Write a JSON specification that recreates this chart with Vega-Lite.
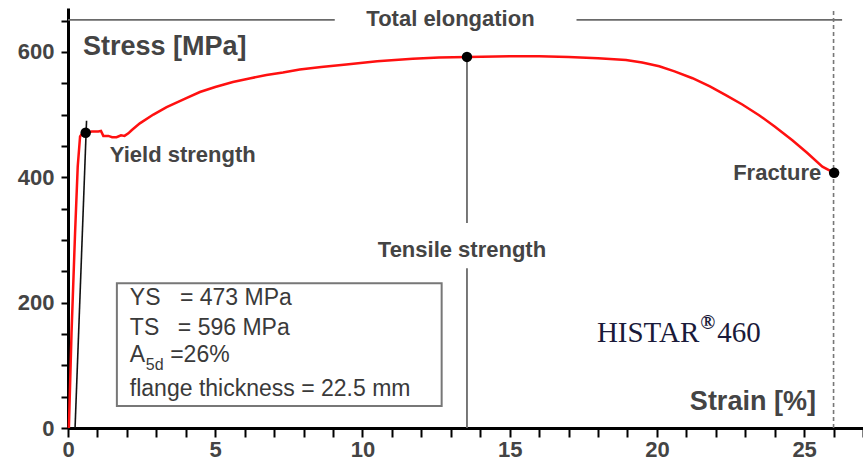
{
  "$schema": "https://vega.github.io/schema/vega-lite/v6.json",
  "width": 795,
  "height": 420,
  "autosize": "none",
  "padding": {"left": 68, "top": 8, "right": 0, "bottom": 35},
  "config": {"view": {"stroke": null}, "font": "Liberation Sans"},
  "datasets": {
    "curve": [
      {"strain": 0.03, "stress": 0}, {"strain": 0.12, "stress": 152}, {"strain": 0.24, "stress": 311},
      {"strain": 0.33, "stress": 417}, {"strain": 0.41, "stress": 465}, {"strain": 0.5, "stress": 471},
      {"strain": 0.58, "stress": 470}, {"strain": 0.8, "stress": 473}, {"strain": 1.03, "stress": 473},
      {"strain": 1.12, "stress": 474}, {"strain": 1.2, "stress": 466}, {"strain": 1.37, "stress": 466},
      {"strain": 1.5, "stress": 464}, {"strain": 1.65, "stress": 464}, {"strain": 1.8, "stress": 467},
      {"strain": 1.92, "stress": 466}, {"strain": 2.05, "stress": 470}, {"strain": 2.16, "stress": 475},
      {"strain": 2.44, "stress": 486}, {"strain": 2.9, "stress": 500}, {"strain": 3.35, "stress": 512},
      {"strain": 4.0, "stress": 526}, {"strain": 4.48, "stress": 536}, {"strain": 5.0, "stress": 544},
      {"strain": 5.6, "stress": 552}, {"strain": 6.2, "stress": 558}, {"strain": 6.74, "stress": 563},
      {"strain": 7.3, "stress": 567}, {"strain": 7.87, "stress": 572}, {"strain": 8.6, "stress": 576},
      {"strain": 9.45, "stress": 580}, {"strain": 10.5, "stress": 585}, {"strain": 11.71, "stress": 589},
      {"strain": 12.6, "stress": 591}, {"strain": 13.58, "stress": 592}, {"strain": 15.0, "stress": 593},
      {"strain": 16.0, "stress": 593}, {"strain": 17.0, "stress": 592}, {"strain": 18.0, "stress": 590},
      {"strain": 18.95, "stress": 587}, {"strain": 19.5, "stress": 583}, {"strain": 20.08, "stress": 577},
      {"strain": 20.6, "stress": 569}, {"strain": 21.21, "stress": 558}, {"strain": 21.8, "stress": 545},
      {"strain": 22.34, "stress": 531}, {"strain": 22.9, "stress": 516}, {"strain": 23.47, "stress": 499},
      {"strain": 24.0, "stress": 481}, {"strain": 24.6, "stress": 459}, {"strain": 25.1, "stress": 439},
      {"strain": 25.62, "stress": 417}, {"strain": 26.02, "stress": 407}
    ],
    "points": [
      {"strain": 0.6, "stress": 471}, {"strain": 13.55, "stress": 592}, {"strain": 26.02, "stress": 407}
    ],
    "grayRules": [
      {"x": 13.55, "y": 327, "x2": 13.55, "y2": 592},
      {"x": 13.55, "y": 0, "x2": 13.55, "y2": 255},
      {"x": 0, "y": 651, "x2": 9.06, "y2": 651},
      {"x": 17.27, "y": 651, "x2": 26.29, "y2": 651}
    ],
    "elastic": [{"x": 0.24, "y": 0, "x2": 0.63, "y2": 490}],
    "dashed": [{"x": 26.0, "y": 0, "x2": 26.0, "y2": 670}],
    "box": [{"x": 1.66, "x2": 12.69, "y": 35, "y2": 231}],
    "leftLabels": [
      {"x": 1.42, "y": 424, "text": "Yield strength"}
    ],
    "centerLabels": [
      {"x": 13.38, "y": 272, "text": "Tensile strength"},
      {"x": 12.99, "y": 641, "text": "Total elongation"}
    ],
    "fracture": [{"x": 25.58, "y": 395, "text": "Fracture"}],
    "titleLeft": [{"x": 0.51, "y": 595, "text": "Stress [MPa]"}],
    "titleRight": [{"x": 25.4, "y": 29, "text": "Strain [%]"}],
    "boxText": [
      {"x": 2.1, "y": 197, "text": "YS"},
      {"x": 3.8, "y": 197, "text": "= 473 MPa"},
      {"x": 2.1, "y": 149, "text": "TS"},
      {"x": 3.73, "y": 149, "text": "= 596 MPa"},
      {"x": 2.1, "y": 106, "text": "A"},
      {"x": 3.47, "y": 106, "text": "=26%"},
      {"x": 2.1, "y": 51, "text": "flange thickness = 22.5 mm"}
    ],
    "subText": [{"x": 2.64, "y": 93, "text": "5d"}],
    "histar": [{"x": 21.44, "y": 137, "text": "HISTAR"}],
    "reg": [{"x": 21.47, "y": 158, "text": "®"}],
    "histarNum": [{"x": 22.05, "y": 137, "text": "460"}]
  },
  "encoding": {
    "x": {
      "field": "x", "type": "quantitative",
      "scale": {"domain": [0, 27], "nice": false, "zero": false},
      "axis": {
        "title": null, "grid": false,
        "values": [0,1,2,3,4,5,6,7,8,9,10,11,12,13,14,15,16,17,18,19,20,21,22,23,24,25,26,27],
        "labelExpr": "datum.value % 5 === 0 ? datum.label : ''",
        "labelOverlap": false, "labelFlush": false,
        "domainColor": "#000000", "domainWidth": 3,
        "tickColor": "#000000", "tickWidth": 2, "tickSize": 9,
        "labelFont": "Liberation Sans", "labelFontWeight": "bold", "labelFontSize": 22,
        "labelColor": "#444444", "labelPadding": 2
      }
    },
    "y": {
      "field": "y", "type": "quantitative",
      "scale": {"domain": [0, 670], "nice": false, "zero": false},
      "axis": {
        "title": null, "grid": false,
        "values": [0,50,100,150,200,250,300,350,400,450,500,550,600,650],
        "labelExpr": "datum.value % 200 === 0 ? datum.label : ''",
        "labelOverlap": false, "labelFlush": false,
        "domainColor": "#000000", "domainWidth": 3,
        "tickColor": "#000000", "tickWidth": 2, "tickSize": 7,
        "labelFont": "Liberation Sans", "labelFontWeight": "bold", "labelFontSize": 22,
        "labelColor": "#444444", "labelPadding": 7
      }
    }
  },
  "layer": [
    {
      "data": {"name": "box"},
      "mark": {"type": "rect", "fill": "#ffffff", "stroke": "#777777", "strokeWidth": 2},
      "encoding": {"x2": {"field": "x2"}, "y2": {"field": "y2"}}
    },
    {
      "data": {"name": "grayRules"},
      "mark": {"type": "rule", "color": "#6a6a6a", "strokeWidth": 1.8},
      "encoding": {"x2": {"field": "x2"}, "y2": {"field": "y2"}}
    },
    {
      "data": {"name": "dashed"},
      "mark": {"type": "rule", "color": "#777777", "strokeWidth": 1.6, "strokeDash": [4, 3]},
      "encoding": {"x2": {"field": "x2"}, "y2": {"field": "y2"}}
    },
    {
      "data": {"name": "elastic"},
      "mark": {"type": "rule", "color": "#111111", "strokeWidth": 1.6},
      "encoding": {"x2": {"field": "x2"}, "y2": {"field": "y2"}}
    },
    {
      "data": {"name": "curve"},
      "mark": {"type": "line", "color": "#ff1010", "strokeWidth": 2.5},
      "encoding": {
        "x": {"field": "strain", "type": "quantitative"},
        "y": {"field": "stress", "type": "quantitative"}
      }
    },
    {
      "data": {"name": "points"},
      "mark": {"type": "point", "filled": true, "color": "#000000", "size": 110, "opacity": 1},
      "encoding": {
        "x": {"field": "strain", "type": "quantitative"},
        "y": {"field": "stress", "type": "quantitative"}
      }
    },
    {
      "data": {"name": "leftLabels"},
      "mark": {"type": "text", "font": "Liberation Sans", "fontWeight": "bold", "fontSize": 22, "color": "#444444", "baseline": "alphabetic", "align": "left"},
      "encoding": {"text": {"field": "text"}}
    },
    {
      "data": {"name": "centerLabels"},
      "mark": {"type": "text", "font": "Liberation Sans", "fontWeight": "bold", "fontSize": 22, "color": "#444444", "baseline": "alphabetic", "align": "center"},
      "encoding": {"text": {"field": "text"}}
    },
    {
      "data": {"name": "fracture"},
      "mark": {"type": "text", "font": "Liberation Sans", "fontWeight": "bold", "fontSize": 22, "color": "#444444", "baseline": "alphabetic", "align": "right"},
      "encoding": {"text": {"field": "text"}}
    },
    {
      "data": {"name": "titleLeft"},
      "mark": {"type": "text", "font": "Liberation Sans", "fontWeight": "bold", "fontSize": 27, "color": "#444444", "baseline": "alphabetic", "align": "left"},
      "encoding": {"text": {"field": "text"}}
    },
    {
      "data": {"name": "titleRight"},
      "mark": {"type": "text", "font": "Liberation Sans", "fontWeight": "bold", "fontSize": 27, "color": "#444444", "baseline": "alphabetic", "align": "right"},
      "encoding": {"text": {"field": "text"}}
    },
    {
      "data": {"name": "boxText"},
      "mark": {"type": "text", "font": "Liberation Sans", "fontSize": 23, "color": "#3a3a3a", "baseline": "alphabetic", "align": "left"},
      "encoding": {"text": {"field": "text"}}
    },
    {
      "data": {"name": "subText"},
      "mark": {"type": "text", "font": "Liberation Sans", "fontSize": 16, "color": "#3a3a3a", "baseline": "alphabetic", "align": "left"},
      "encoding": {"text": {"field": "text"}}
    },
    {
      "data": {"name": "histar"},
      "mark": {"type": "text", "font": "Liberation Serif", "fontSize": 29, "color": "#1a1a3a", "baseline": "alphabetic", "align": "right"},
      "encoding": {"text": {"field": "text"}}
    },
    {
      "data": {"name": "reg"},
      "mark": {"type": "text", "font": "Liberation Serif", "fontWeight": "bold", "fontSize": 20, "color": "#1a1a3a", "baseline": "alphabetic", "align": "left"},
      "encoding": {"text": {"field": "text"}}
    },
    {
      "data": {"name": "histarNum"},
      "mark": {"type": "text", "font": "Liberation Serif", "fontSize": 29, "color": "#1a1a3a", "baseline": "alphabetic", "align": "left"},
      "encoding": {"text": {"field": "text"}}
    }
  ]
}
